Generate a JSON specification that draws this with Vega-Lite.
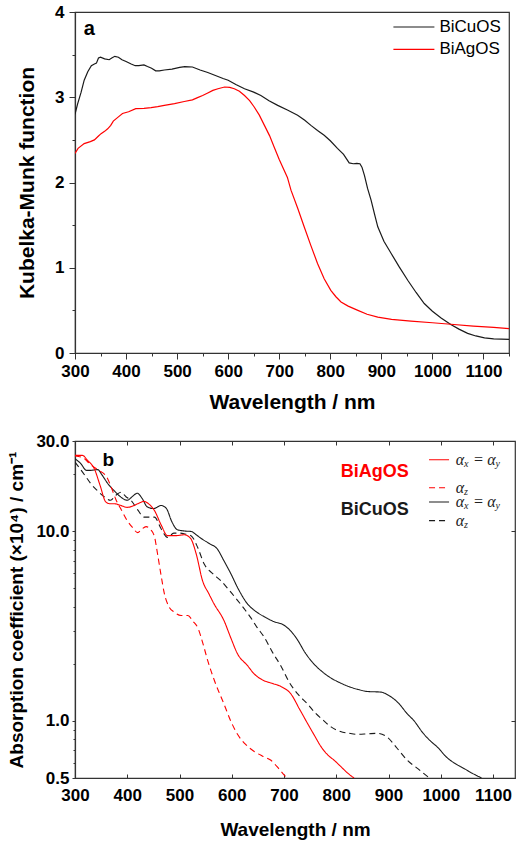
{
  "$schema": "https://vega.github.io/schema/vega-lite/v6.json",
  "padding": {"left": 7, "top": 2, "right": 0, "bottom": 0},
  "background": "white",
  "spacing": 18,
  "config": {
    "font": "Liberation Sans",
    "view": {"stroke": "#333333", "strokeWidth": 1.2},
    "axis": {
      "grid": false, "domainColor": "#333333", "tickColor": "#333333", "domainWidth": 1.2, "tickWidth": 1,
      "labelFont": "Liberation Sans", "labelFontWeight": "bold", "labelFontSize": 17, "labelColor": "black",
      "titleFont": "Liberation Sans", "titleFontWeight": "bold", "titleColor": "black",
      "labelFlush": false, "labelOverlap": false
    }
  },
  "datasets": {
    "km": [
      {"s":"BiCuOS","w":300,"v":2.80},{"s":"BiCuOS","w":305,"v":2.92},{"s":"BiCuOS","w":312,"v":3.06},{"s":"BiCuOS","w":318,"v":3.20},{"s":"BiCuOS","w":325,"v":3.30},{"s":"BiCuOS","w":332,"v":3.37},{"s":"BiCuOS","w":338,"v":3.39},{"s":"BiCuOS","w":342,"v":3.40},{"s":"BiCuOS","w":346,"v":3.46},{"s":"BiCuOS","w":350,"v":3.47},{"s":"BiCuOS","w":358,"v":3.45},{"s":"BiCuOS","w":367,"v":3.44},{"s":"BiCuOS","w":372,"v":3.46},{"s":"BiCuOS","w":378,"v":3.48},{"s":"BiCuOS","w":385,"v":3.47},{"s":"BiCuOS","w":392,"v":3.44},{"s":"BiCuOS","w":400,"v":3.42},{"s":"BiCuOS","w":410,"v":3.39},{"s":"BiCuOS","w":418,"v":3.37},{"s":"BiCuOS","w":425,"v":3.37},{"s":"BiCuOS","w":435,"v":3.38},{"s":"BiCuOS","w":442,"v":3.36},{"s":"BiCuOS","w":450,"v":3.34},{"s":"BiCuOS","w":458,"v":3.31},{"s":"BiCuOS","w":465,"v":3.31},{"s":"BiCuOS","w":475,"v":3.32},{"s":"BiCuOS","w":490,"v":3.33},{"s":"BiCuOS","w":505,"v":3.35},{"s":"BiCuOS","w":515,"v":3.36},{"s":"BiCuOS","w":530,"v":3.355},{"s":"BiCuOS","w":545,"v":3.32},{"s":"BiCuOS","w":560,"v":3.29},{"s":"BiCuOS","w":575,"v":3.255},{"s":"BiCuOS","w":590,"v":3.22},{"s":"BiCuOS","w":600,"v":3.20},{"s":"BiCuOS","w":615,"v":3.15},{"s":"BiCuOS","w":632,"v":3.10},{"s":"BiCuOS","w":650,"v":3.06},{"s":"BiCuOS","w":664,"v":3.02},{"s":"BiCuOS","w":680,"v":2.96},{"s":"BiCuOS","w":697,"v":2.905},{"s":"BiCuOS","w":716,"v":2.85},{"s":"BiCuOS","w":736,"v":2.79},{"s":"BiCuOS","w":750,"v":2.73},{"s":"BiCuOS","w":762,"v":2.67},{"s":"BiCuOS","w":775,"v":2.61},{"s":"BiCuOS","w":788,"v":2.555},{"s":"BiCuOS","w":800,"v":2.49},{"s":"BiCuOS","w":814,"v":2.40},{"s":"BiCuOS","w":826,"v":2.33},{"s":"BiCuOS","w":837,"v":2.23},{"s":"BiCuOS","w":845,"v":2.22},{"s":"BiCuOS","w":852,"v":2.225},{"s":"BiCuOS","w":858,"v":2.22},{"s":"BiCuOS","w":862,"v":2.18},{"s":"BiCuOS","w":867,"v":2.08},{"s":"BiCuOS","w":873,"v":1.93},{"s":"BiCuOS","w":880,"v":1.79},{"s":"BiCuOS","w":887,"v":1.62},{"s":"BiCuOS","w":893,"v":1.48},{"s":"BiCuOS","w":905,"v":1.31},{"s":"BiCuOS","w":919,"v":1.17},{"s":"BiCuOS","w":935,"v":1.01},{"s":"BiCuOS","w":952,"v":0.85},{"s":"BiCuOS","w":968,"v":0.71},{"s":"BiCuOS","w":984,"v":0.58},{"s":"BiCuOS","w":1000,"v":0.49},{"s":"BiCuOS","w":1017,"v":0.41},{"s":"BiCuOS","w":1036,"v":0.335},{"s":"BiCuOS","w":1052,"v":0.28},{"s":"BiCuOS","w":1069,"v":0.23},{"s":"BiCuOS","w":1085,"v":0.20},{"s":"BiCuOS","w":1102,"v":0.177},{"s":"BiCuOS","w":1120,"v":0.165},{"s":"BiCuOS","w":1150,"v":0.16},
      {"s":"BiAgOS","w":300,"v":2.34},{"s":"BiAgOS","w":306,"v":2.40},{"s":"BiAgOS","w":318,"v":2.456},{"s":"BiAgOS","w":330,"v":2.48},{"s":"BiAgOS","w":338,"v":2.50},{"s":"BiAgOS","w":345,"v":2.54},{"s":"BiAgOS","w":351,"v":2.573},{"s":"BiAgOS","w":358,"v":2.60},{"s":"BiAgOS","w":364,"v":2.63},{"s":"BiAgOS","w":370,"v":2.67},{"s":"BiAgOS","w":375,"v":2.72},{"s":"BiAgOS","w":385,"v":2.77},{"s":"BiAgOS","w":393,"v":2.81},{"s":"BiAgOS","w":405,"v":2.83},{"s":"BiAgOS","w":419,"v":2.867},{"s":"BiAgOS","w":435,"v":2.87},{"s":"BiAgOS","w":449,"v":2.878},{"s":"BiAgOS","w":462,"v":2.89},{"s":"BiAgOS","w":475,"v":2.905},{"s":"BiAgOS","w":495,"v":2.925},{"s":"BiAgOS","w":514,"v":2.95},{"s":"BiAgOS","w":530,"v":2.97},{"s":"BiAgOS","w":540,"v":2.995},{"s":"BiAgOS","w":550,"v":3.02},{"s":"BiAgOS","w":560,"v":3.05},{"s":"BiAgOS","w":570,"v":3.08},{"s":"BiAgOS","w":580,"v":3.10},{"s":"BiAgOS","w":593,"v":3.12},{"s":"BiAgOS","w":603,"v":3.115},{"s":"BiAgOS","w":612,"v":3.10},{"s":"BiAgOS","w":622,"v":3.07},{"s":"BiAgOS","w":632,"v":3.02},{"s":"BiAgOS","w":642,"v":2.96},{"s":"BiAgOS","w":651,"v":2.886},{"s":"BiAgOS","w":661,"v":2.79},{"s":"BiAgOS","w":671,"v":2.67},{"s":"BiAgOS","w":681,"v":2.55},{"s":"BiAgOS","w":690,"v":2.416},{"s":"BiAgOS","w":700,"v":2.27},{"s":"BiAgOS","w":716,"v":2.06},{"s":"BiAgOS","w":723,"v":1.91},{"s":"BiAgOS","w":736,"v":1.70},{"s":"BiAgOS","w":749,"v":1.478},{"s":"BiAgOS","w":762,"v":1.26},{"s":"BiAgOS","w":775,"v":1.05},{"s":"BiAgOS","w":788,"v":0.87},{"s":"BiAgOS","w":801,"v":0.735},{"s":"BiAgOS","w":811,"v":0.66},{"s":"BiAgOS","w":821,"v":0.598},{"s":"BiAgOS","w":835,"v":0.55},{"s":"BiAgOS","w":854,"v":0.50},{"s":"BiAgOS","w":872,"v":0.455},{"s":"BiAgOS","w":893,"v":0.42},{"s":"BiAgOS","w":920,"v":0.395},{"s":"BiAgOS","w":958,"v":0.375},{"s":"BiAgOS","w":1000,"v":0.355},{"s":"BiAgOS","w":1036,"v":0.337},{"s":"BiAgOS","w":1080,"v":0.315},{"s":"BiAgOS","w":1120,"v":0.30},{"s":"BiAgOS","w":1150,"v":0.286}
    ],
    "ab": [
      {"s":"BiCuOS","c":"xy","w":300,"v":24.2},{"s":"BiCuOS","c":"xy","w":311,"v":22.8},{"s":"BiCuOS","c":"xy","w":322,"v":21.0},{"s":"BiCuOS","c":"xy","w":330,"v":21.0},{"s":"BiCuOS","c":"xy","w":343,"v":21.2},{"s":"BiCuOS","c":"xy","w":352,"v":19.8},{"s":"BiCuOS","c":"xy","w":362,"v":18.0},{"s":"BiCuOS","c":"xy","w":374,"v":16.5},{"s":"BiCuOS","c":"xy","w":385,"v":15.4},{"s":"BiCuOS","c":"xy","w":400,"v":14.6},{"s":"BiCuOS","c":"xy","w":410,"v":15.3},{"s":"BiCuOS","c":"xy","w":419,"v":15.9},{"s":"BiCuOS","c":"xy","w":428,"v":15.0},{"s":"BiCuOS","c":"xy","w":438,"v":13.5},{"s":"BiCuOS","c":"xy","w":450,"v":13.2},{"s":"BiCuOS","c":"xy","w":465,"v":13.7},{"s":"BiCuOS","c":"xy","w":475,"v":13.2},{"s":"BiCuOS","c":"xy","w":485,"v":11.3},{"s":"BiCuOS","c":"xy","w":496,"v":10.2},{"s":"BiCuOS","c":"xy","w":510,"v":10.05},{"s":"BiCuOS","c":"xy","w":522,"v":10.0},{"s":"BiCuOS","c":"xy","w":532,"v":9.6},{"s":"BiCuOS","c":"xy","w":541,"v":9.2},{"s":"BiCuOS","c":"xy","w":558,"v":8.6},{"s":"BiCuOS","c":"xy","w":572,"v":8.1},{"s":"BiCuOS","c":"xy","w":585,"v":7.0},{"s":"BiCuOS","c":"xy","w":598,"v":6.0},{"s":"BiCuOS","c":"xy","w":612,"v":5.0},{"s":"BiCuOS","c":"xy","w":630,"v":4.15},{"s":"BiCuOS","c":"xy","w":645,"v":3.8},{"s":"BiCuOS","c":"xy","w":662,"v":3.55},{"s":"BiCuOS","c":"xy","w":680,"v":3.35},{"s":"BiCuOS","c":"xy","w":700,"v":3.2},{"s":"BiCuOS","c":"xy","w":712,"v":3.0},{"s":"BiCuOS","c":"xy","w":725,"v":2.7},{"s":"BiCuOS","c":"xy","w":740,"v":2.3},{"s":"BiCuOS","c":"xy","w":757,"v":2.0},{"s":"BiCuOS","c":"xy","w":773,"v":1.82},{"s":"BiCuOS","c":"xy","w":789,"v":1.69},{"s":"BiCuOS","c":"xy","w":805,"v":1.60},{"s":"BiCuOS","c":"xy","w":821,"v":1.53},{"s":"BiCuOS","c":"xy","w":840,"v":1.47},{"s":"BiCuOS","c":"xy","w":860,"v":1.43},{"s":"BiCuOS","c":"xy","w":885,"v":1.42},{"s":"BiCuOS","c":"xy","w":901,"v":1.36},{"s":"BiCuOS","c":"xy","w":918,"v":1.25},{"s":"BiCuOS","c":"xy","w":936,"v":1.09},{"s":"BiCuOS","c":"xy","w":949,"v":1.0},{"s":"BiCuOS","c":"xy","w":965,"v":0.87},{"s":"BiCuOS","c":"xy","w":981,"v":0.78},{"s":"BiCuOS","c":"xy","w":993,"v":0.73},{"s":"BiCuOS","c":"xy","w":1012,"v":0.64},{"s":"BiCuOS","c":"xy","w":1030,"v":0.59},{"s":"BiCuOS","c":"xy","w":1045,"v":0.56},{"s":"BiCuOS","c":"xy","w":1060,"v":0.53},{"s":"BiCuOS","c":"xy","w":1078,"v":0.5},
      {"s":"BiCuOS","c":"z","w":300,"v":23.2},{"s":"BiCuOS","c":"z","w":312,"v":21.0},{"s":"BiCuOS","c":"z","w":321,"v":19.4},{"s":"BiCuOS","c":"z","w":330,"v":17.9},{"s":"BiCuOS","c":"z","w":343,"v":16.4},{"s":"BiCuOS","c":"z","w":355,"v":15.3},{"s":"BiCuOS","c":"z","w":368,"v":14.6},{"s":"BiCuOS","c":"z","w":378,"v":15.5},{"s":"BiCuOS","c":"z","w":388,"v":16.1},{"s":"BiCuOS","c":"z","w":398,"v":15.2},{"s":"BiCuOS","c":"z","w":407,"v":14.6},{"s":"BiCuOS","c":"z","w":420,"v":13.0},{"s":"BiCuOS","c":"z","w":432,"v":11.9},{"s":"BiCuOS","c":"z","w":445,"v":11.9},{"s":"BiCuOS","c":"z","w":452,"v":11.9},{"s":"BiCuOS","c":"z","w":465,"v":10.3},{"s":"BiCuOS","c":"z","w":477,"v":9.3},{"s":"BiCuOS","c":"z","w":489,"v":9.8},{"s":"BiCuOS","c":"z","w":499,"v":9.8},{"s":"BiCuOS","c":"z","w":510,"v":9.7},{"s":"BiCuOS","c":"z","w":522,"v":9.5},{"s":"BiCuOS","c":"z","w":535,"v":8.2},{"s":"BiCuOS","c":"z","w":547,"v":6.75},{"s":"BiCuOS","c":"z","w":563,"v":6.0},{"s":"BiCuOS","c":"z","w":579,"v":5.5},{"s":"BiCuOS","c":"z","w":595,"v":4.9},{"s":"BiCuOS","c":"z","w":611,"v":4.33},{"s":"BiCuOS","c":"z","w":624,"v":3.9},{"s":"BiCuOS","c":"z","w":636,"v":3.52},{"s":"BiCuOS","c":"z","w":649,"v":3.1},{"s":"BiCuOS","c":"z","w":662,"v":2.77},{"s":"BiCuOS","c":"z","w":678,"v":2.3},{"s":"BiCuOS","c":"z","w":694,"v":1.95},{"s":"BiCuOS","c":"z","w":710,"v":1.6},{"s":"BiCuOS","c":"z","w":727,"v":1.38},{"s":"BiCuOS","c":"z","w":745,"v":1.23},{"s":"BiCuOS","c":"z","w":760,"v":1.10},{"s":"BiCuOS","c":"z","w":775,"v":1.01},{"s":"BiCuOS","c":"z","w":790,"v":0.93},{"s":"BiCuOS","c":"z","w":808,"v":0.88},{"s":"BiCuOS","c":"z","w":825,"v":0.86},{"s":"BiCuOS","c":"z","w":840,"v":0.85},{"s":"BiCuOS","c":"z","w":860,"v":0.855},{"s":"BiCuOS","c":"z","w":879,"v":0.86},{"s":"BiCuOS","c":"z","w":898,"v":0.82},{"s":"BiCuOS","c":"z","w":916,"v":0.72},{"s":"BiCuOS","c":"z","w":936,"v":0.62},{"s":"BiCuOS","c":"z","w":956,"v":0.56},{"s":"BiCuOS","c":"z","w":978,"v":0.5},
      {"s":"BiAgOS","c":"xy","w":300,"v":25.2},{"s":"BiAgOS","c":"xy","w":314,"v":25.2},{"s":"BiAgOS","c":"xy","w":324,"v":23.7},{"s":"BiAgOS","c":"xy","w":337,"v":21.4},{"s":"BiAgOS","c":"xy","w":348,"v":17.5},{"s":"BiAgOS","c":"xy","w":359,"v":14.3},{"s":"BiAgOS","c":"xy","w":367,"v":14.0},{"s":"BiAgOS","c":"xy","w":375,"v":14.0},{"s":"BiAgOS","c":"xy","w":388,"v":13.7},{"s":"BiAgOS","c":"xy","w":400,"v":13.4},{"s":"BiAgOS","c":"xy","w":410,"v":13.6},{"s":"BiAgOS","c":"xy","w":420,"v":14.0},{"s":"BiAgOS","c":"xy","w":432,"v":14.4},{"s":"BiAgOS","c":"xy","w":442,"v":13.9},{"s":"BiAgOS","c":"xy","w":452,"v":12.9},{"s":"BiAgOS","c":"xy","w":465,"v":10.8},{"s":"BiAgOS","c":"xy","w":477,"v":9.5},{"s":"BiAgOS","c":"xy","w":493,"v":9.5},{"s":"BiAgOS","c":"xy","w":509,"v":9.6},{"s":"BiAgOS","c":"xy","w":521,"v":9.2},{"s":"BiAgOS","c":"xy","w":532,"v":7.6},{"s":"BiAgOS","c":"xy","w":544,"v":5.5},{"s":"BiAgOS","c":"xy","w":556,"v":4.7},{"s":"BiAgOS","c":"xy","w":566,"v":4.15},{"s":"BiAgOS","c":"xy","w":585,"v":3.39},{"s":"BiAgOS","c":"xy","w":598,"v":2.75},{"s":"BiAgOS","c":"xy","w":611,"v":2.26},{"s":"BiAgOS","c":"xy","w":630,"v":1.96},{"s":"BiAgOS","c":"xy","w":643,"v":1.77},{"s":"BiAgOS","c":"xy","w":660,"v":1.64},{"s":"BiAgOS","c":"xy","w":677,"v":1.58},{"s":"BiAgOS","c":"xy","w":694,"v":1.52},{"s":"BiAgOS","c":"xy","w":713,"v":1.39},{"s":"BiAgOS","c":"xy","w":730,"v":1.15},{"s":"BiAgOS","c":"xy","w":745,"v":0.97},{"s":"BiAgOS","c":"xy","w":758,"v":0.84},{"s":"BiAgOS","c":"xy","w":771,"v":0.73},{"s":"BiAgOS","c":"xy","w":784,"v":0.66},{"s":"BiAgOS","c":"xy","w":796,"v":0.62},{"s":"BiAgOS","c":"xy","w":810,"v":0.57},{"s":"BiAgOS","c":"xy","w":822,"v":0.53},{"s":"BiAgOS","c":"xy","w":834,"v":0.5},
      {"s":"BiAgOS","c":"z","w":300,"v":25.0},{"s":"BiAgOS","c":"z","w":315,"v":24.5},{"s":"BiAgOS","c":"z","w":330,"v":22.5},{"s":"BiAgOS","c":"z","w":345,"v":21.0},{"s":"BiAgOS","c":"z","w":360,"v":19.5},{"s":"BiAgOS","c":"z","w":368,"v":17.5},{"s":"BiAgOS","c":"z","w":378,"v":14.8},{"s":"BiAgOS","c":"z","w":390,"v":12.8},{"s":"BiAgOS","c":"z","w":400,"v":11.4},{"s":"BiAgOS","c":"z","w":410,"v":10.5},{"s":"BiAgOS","c":"z","w":420,"v":9.85},{"s":"BiAgOS","c":"z","w":428,"v":10.3},{"s":"BiAgOS","c":"z","w":436,"v":10.6},{"s":"BiAgOS","c":"z","w":445,"v":10.2},{"s":"BiAgOS","c":"z","w":452,"v":9.4},{"s":"BiAgOS","c":"z","w":458,"v":7.6},{"s":"BiAgOS","c":"z","w":465,"v":5.8},{"s":"BiAgOS","c":"z","w":471,"v":4.7},{"s":"BiAgOS","c":"z","w":480,"v":4.0},{"s":"BiAgOS","c":"z","w":490,"v":3.75},{"s":"BiAgOS","c":"z","w":503,"v":3.6},{"s":"BiAgOS","c":"z","w":516,"v":3.6},{"s":"BiAgOS","c":"z","w":526,"v":3.35},{"s":"BiAgOS","c":"z","w":535,"v":3.1},{"s":"BiAgOS","c":"z","w":545,"v":2.55},{"s":"BiAgOS","c":"z","w":554,"v":2.08},{"s":"BiAgOS","c":"z","w":568,"v":1.6},{"s":"BiAgOS","c":"z","w":585,"v":1.23},{"s":"BiAgOS","c":"z","w":598,"v":1.0},{"s":"BiAgOS","c":"z","w":611,"v":0.85},{"s":"BiAgOS","c":"z","w":627,"v":0.75},{"s":"BiAgOS","c":"z","w":643,"v":0.69},{"s":"BiAgOS","c":"z","w":660,"v":0.65},{"s":"BiAgOS","c":"z","w":675,"v":0.62},{"s":"BiAgOS","c":"z","w":690,"v":0.56},{"s":"BiAgOS","c":"z","w":700,"v":0.52},{"s":"BiAgOS","c":"z","w":706,"v":0.5}
    ],
    "legA": [
      {"s":"BiCuOS","w1":923.6,"w2":1003.9,"wt":1013.7,"v":3.824},
      {"s":"BiAgOS","w1":923.6,"w2":1003.9,"wt":1013.7,"v":3.562}
    ],
    "legBLines": [
      {"s":"BiAgOS","c":"xy","w1":977.5,"w2":1015.8,"v":23.9},
      {"s":"BiAgOS","c":"z","w1":977.5,"w2":1015.8,"v":17.0},
      {"s":"BiCuOS","c":"xy","w1":977.5,"w2":1015.8,"v":14.3},
      {"s":"BiCuOS","c":"z","w1":977.5,"w2":1015.8,"v":11.4}
    ],
    "legBNames": [
      {"s":"BiAgOS","w":808.4,"v":20.6},
      {"s":"BiCuOS","w":808.4,"v":12.9}
    ],
    "legBAlpha": [
      {"t":"α","w":1028.4,"v":23.9},{"t":"α","w":1089,"v":23.9},
      {"t":"α","w":1028.4,"v":17.0},
      {"t":"α","w":1028.4,"v":14.3},{"t":"α","w":1089,"v":14.3},
      {"t":"α","w":1028.4,"v":11.4}
    ],
    "legBEq": [
      {"t":"=","w":1063.6,"v":23.9},
      {"t":"=","w":1063.6,"v":14.3}
    ],
    "legBSub": [
      {"t":"x","w":1044.5,"v":23.9},{"t":"y","w":1104.9,"v":23.9},
      {"t":"z","w":1044.5,"v":17.0},
      {"t":"x","w":1044.5,"v":14.3},{"t":"y","w":1104.9,"v":14.3},
      {"t":"z","w":1044.5,"v":11.4}
    ]
  },
  "vconcat": [
    {
      "width": 434,
      "height": 341,
      "layer": [
        {
          "data": {"name": "km"},
          "mark": {"type": "line", "strokeWidth": 1.2, "clip": true},
          "encoding": {
            "x": {"field": "w", "type": "quantitative",
                  "scale": {"domain": [300, 1150], "nice": false, "zero": false},
                  "axis": {"orient": "bottom", "values": [300,400,500,600,700,800,900,1000,1100], "format": "d", "labelFontWeight": "bold", "tickSize": 6, "labelPadding": 4, "title": "Wavelength / nm", "titleFontSize": 21, "titlePadding": 12}},
            "y": {"field": "v", "type": "quantitative",
                  "scale": {"domain": [0, 4], "nice": false, "zero": false},
                  "axis": {"orient": "left", "values": [0,1,2,3,4], "format": "d", "labelFontWeight": "bold", "tickSize": 6, "labelPadding": 5, "title": "Kubelka-Munk function", "titleFontSize": 21, "titlePadding": 17}},
            "color": {"field": "s", "type": "nominal", "scale": {"domain": ["BiCuOS","BiAgOS"], "range": ["#1a1a1a","#ff0000"]}, "legend": null}
          }
        },
        {
          "data": {"name": "legA"},
          "mark": {"type": "rule", "strokeWidth": 1.2},
          "encoding": {
            "x": {"field": "w1", "type": "quantitative",
                  "scale": {"domain": [300, 1150], "nice": false, "zero": false},
                  "axis": {"orient": "bottom", "values": [350,450,550,650,750,850,950,1050,1150], "tickSize": 3, "labels": false, "domain": false, "title": null}},
            "x2": {"field": "w2"},
            "y": {"field": "v", "type": "quantitative",
                  "scale": {"domain": [0, 4], "nice": false, "zero": false},
                  "axis": {"orient": "left", "values": [0.5,1.5,2.5,3.5], "tickSize": 3, "labels": false, "domain": false, "title": null}},
            "color": {"field": "s", "type": "nominal", "scale": {"domain": ["BiCuOS","BiAgOS"], "range": ["#1a1a1a","#ff0000"]}, "legend": null}
          }
        },
        {
          "data": {"name": "legA"},
          "mark": {"type": "text", "align": "left", "baseline": "middle", "fontSize": 17, "font": "Liberation Sans", "color": "black"},
          "encoding": {
            "x": {"field": "wt", "type": "quantitative", "scale": {"domain": [300, 1150], "nice": false, "zero": false}, "axis": null},
            "y": {"field": "v", "type": "quantitative", "scale": {"domain": [0, 4], "nice": false, "zero": false}, "axis": null},
            "text": {"field": "s"}
          }
        },
        {
          "data": {"values": [{"t": "a", "w": 317, "v": 3.727}]},
          "mark": {"type": "text", "align": "left", "baseline": "alphabetic", "fontSize": 20, "fontWeight": "bold", "font": "Liberation Sans", "color": "black"},
          "encoding": {
            "x": {"field": "w", "type": "quantitative", "scale": {"domain": [300, 1150], "nice": false, "zero": false}, "axis": null},
            "y": {"field": "v", "type": "quantitative", "scale": {"domain": [0, 4], "nice": false, "zero": false}, "axis": null},
            "text": {"field": "t"}
          }
        }
      ],
      "resolve": {"axis": {"x": "independent", "y": "independent"}}
    },
    {
      "width": 440,
      "height": 337,
      "layer": [
        {
          "data": {"name": "ab"},
          "mark": {"type": "line", "strokeWidth": 1.1, "clip": true, "interpolate": "monotone"},
          "encoding": {
            "x": {"field": "w", "type": "quantitative",
                  "scale": {"domain": [300, 1142], "nice": false, "zero": false},
                  "axis": {"orient": "bottom", "values": [300,400,500,600,700,800,900,1000,1100], "format": "d", "labelFontWeight": "bold", "tickSize": -4, "labelPadding": 13, "title": "Wavelength / nm", "titleFontSize": 19, "titlePadding": 17}},
            "y": {"field": "v", "type": "quantitative",
                  "scale": {"type": "log", "domain": [0.5, 30], "nice": false},
                  "axis": {"orient": "left", "values": [0.5,1,10,30], "format": ".1f", "labelFontWeight": "bold", "tickSize": 3, "labelPadding": 3, "title": "Absorption coefficient (×10⁴) / cm⁻¹", "titleFontSize": 19, "titlePadding": 9}},
            "color": {"field": "s", "type": "nominal", "scale": {"domain": ["BiCuOS","BiAgOS"], "range": ["#1a1a1a","#ff0000"]}, "legend": null},
            "strokeDash": {"field": "c", "type": "nominal", "scale": {"domain": ["xy","z"], "range": [[1,0],[6,4]]}, "legend": null}
          }
        },
        {
          "data": {"name": "legBLines"},
          "mark": {"type": "rule", "strokeWidth": 1.1},
          "encoding": {
            "x": {"field": "w1", "type": "quantitative",
                  "scale": {"domain": [300, 1142], "nice": false, "zero": false},
                  "axis": {"orient": "top", "values": [300,400,500,600,700,800,900,1000,1100], "tickSize": -4, "labels": false, "domain": false, "title": null}},
            "x2": {"field": "w2"},
            "y": {"field": "v", "type": "quantitative",
                  "scale": {"type": "log", "domain": [0.5, 30], "nice": false},
                  "axis": {"orient": "left", "values": [0.6,0.7,0.8,0.9,2,3,4,5,6,7,8,9,20], "tickSize": 2, "labels": false, "domain": false, "title": null}},
            "color": {"field": "s", "type": "nominal", "scale": {"domain": ["BiCuOS","BiAgOS"], "range": ["#1a1a1a","#ff0000"]}, "legend": null},
            "strokeDash": {"field": "c", "type": "nominal", "scale": {"domain": ["xy","z"], "range": [[1,0],[6,4]]}, "legend": null}
          }
        },
        {
          "data": {"name": "legBNames"},
          "mark": {"type": "text", "align": "left", "baseline": "middle", "fontSize": 18, "fontWeight": "bold", "font": "Liberation Sans"},
          "encoding": {
            "x": {"field": "w", "type": "quantitative", "scale": {"domain": [300, 1142], "nice": false, "zero": false}, "axis": null},
            "y": {"field": "v", "type": "quantitative", "scale": {"type": "log", "domain": [0.5, 30], "nice": false},
                  "axis": {"orient": "right", "values": [1, 10], "tickSize": -4, "labels": false, "domain": false, "title": null}},
            "text": {"field": "s"},
            "color": {"field": "s", "type": "nominal", "scale": {"domain": ["BiCuOS","BiAgOS"], "range": ["#000000","#ff0000"]}, "legend": null}
          }
        },
        {
          "data": {"name": "legBAlpha"},
          "mark": {"type": "text", "align": "left", "baseline": "middle", "fontSize": 16, "fontStyle": "italic", "font": "Liberation Serif", "color": "#222222"},
          "encoding": {
            "x": {"field": "w", "type": "quantitative", "scale": {"domain": [300, 1142], "nice": false, "zero": false}, "axis": null},
            "y": {"field": "v", "type": "quantitative", "scale": {"type": "log", "domain": [0.5, 30], "nice": false}, "axis": null},
            "text": {"field": "t"}
          }
        },
        {
          "data": {"name": "legBEq"},
          "mark": {"type": "text", "align": "left", "baseline": "middle", "fontSize": 16, "font": "Liberation Serif", "color": "#222222"},
          "encoding": {
            "x": {"field": "w", "type": "quantitative", "scale": {"domain": [300, 1142], "nice": false, "zero": false}, "axis": null},
            "y": {"field": "v", "type": "quantitative", "scale": {"type": "log", "domain": [0.5, 30], "nice": false}, "axis": null},
            "text": {"field": "t"}
          }
        },
        {
          "data": {"name": "legBSub"},
          "mark": {"type": "text", "align": "left", "baseline": "middle", "dy": 4, "fontSize": 10, "fontStyle": "italic", "font": "Liberation Serif", "color": "#222222"},
          "encoding": {
            "x": {"field": "w", "type": "quantitative", "scale": {"domain": [300, 1142], "nice": false, "zero": false}, "axis": null},
            "y": {"field": "v", "type": "quantitative", "scale": {"type": "log", "domain": [0.5, 30], "nice": false}, "axis": null},
            "text": {"field": "t"}
          }
        },
        {
          "data": {"values": [{"t": "b", "w": 352.6, "v": 22.05}]},
          "mark": {"type": "text", "align": "left", "baseline": "alphabetic", "fontSize": 19, "fontWeight": "bold", "font": "Liberation Sans", "color": "black"},
          "encoding": {
            "x": {"field": "w", "type": "quantitative", "scale": {"domain": [300, 1142], "nice": false, "zero": false}, "axis": null},
            "y": {"field": "v", "type": "quantitative", "scale": {"type": "log", "domain": [0.5, 30], "nice": false}, "axis": null},
            "text": {"field": "t"}
          }
        }
      ],
      "resolve": {"axis": {"x": "independent", "y": "independent"}}
    }
  ]
}
